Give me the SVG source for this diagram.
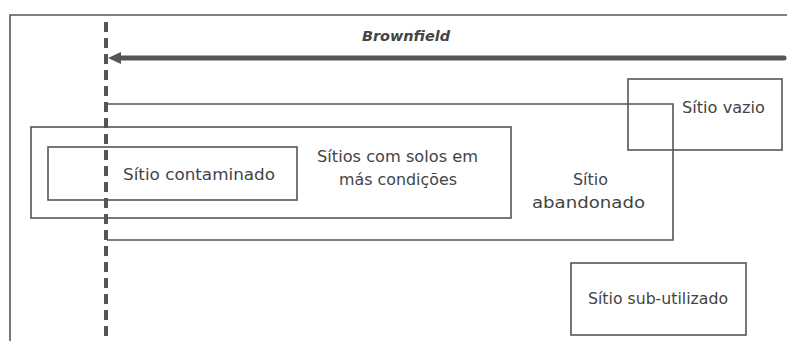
<svg xmlns="http://www.w3.org/2000/svg" width="787" height="341" viewBox="0 0 787 341">
<style>
.box{fill:none;stroke:#555;stroke-width:1.6}
.t{font-family:"DejaVu Sans","Liberation Sans",sans-serif;font-size:15px;fill:#444}
.b{font-family:"DejaVu Sans","Liberation Sans",sans-serif;font-size:14px;font-weight:bold;font-style:italic;fill:#444}
</style>
<defs>
<marker id="ah" markerWidth="13" markerHeight="12" refX="4" refY="6" orient="auto" markerUnits="userSpaceOnUse">
<path d="M0,0 L13,6 L0,12 Z" fill="#555"/>
</marker>
</defs>
<rect width="787" height="341" fill="#fff"/>
<g id="frame">
<path class="box" d="M10,341 V15 H787"/>
</g>
<g id="connectors">
<line x1="784" y1="58" x2="117" y2="58" stroke="#555" stroke-width="5" stroke-linecap="round" marker-end="url(#ah)"/>
<line x1="106" y1="22" x2="106" y2="341" stroke="#555" stroke-width="4" stroke-dasharray="10,6"/>
</g>
<g id="brownfield">
<text class="b" x="362" y="41" textLength="88" lengthAdjust="spacingAndGlyphs">Brownfield</text>
</g>
<g id="abandonado">
<path class="box" d="M107,104 H673 V240 H107"/>
<text class="t" x="573" y="185" textLength="35" lengthAdjust="spacingAndGlyphs">Sítio</text>
<text class="t" x="532" y="208" textLength="113" lengthAdjust="spacingAndGlyphs">abandonado</text>
</g>
<g id="solos">
<rect class="box" x="31" y="127" width="480" height="91"/>
<text class="t" x="317" y="162" textLength="161" lengthAdjust="spacingAndGlyphs">Sítios com solos em</text>
<text class="t" x="339" y="185" textLength="118" lengthAdjust="spacingAndGlyphs">más condições</text>
</g>
<g id="contaminado">
<rect class="box" x="48" y="147" width="249" height="53"/>
<text class="t" x="123" y="180" textLength="152" lengthAdjust="spacingAndGlyphs">Sítio contaminado</text>
</g>
<g id="vazio">
<rect class="box" x="628" y="79" width="154" height="71"/>
<text class="t" x="682" y="113" textLength="83" lengthAdjust="spacingAndGlyphs">Sítio vazio</text>
</g>
<g id="subutilizado">
<rect class="box" x="571" y="263" width="175" height="72"/>
<text class="t" x="588" y="304" textLength="140" lengthAdjust="spacingAndGlyphs">Sítio sub-utilizado</text>
</g>
</svg>
